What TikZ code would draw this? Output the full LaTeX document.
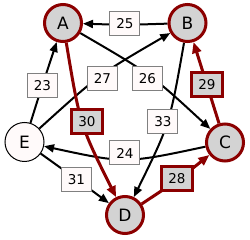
\documentclass[tikz,border=0pt]{standalone}
\usepackage{fontspec}
\setmainfont{DejaVu Sans}
\usetikzlibrary{arrows.meta,calc,backgrounds}
\definecolor{dkred}{HTML}{8B0000}
\definecolor{ltgray}{HTML}{D3D3D3}
\definecolor{snowc}{HTML}{FFFAFA}
\definecolor{lblgray}{HTML}{808080}
\tikzset{
  rednode/.style={circle, draw=dkred, line width=3pt, fill=ltgray, minimum size=37pt, inner sep=0pt, font=\fontsize{17}{20}\selectfont},
  whitenode/.style={circle, draw=black, line width=1pt, fill=snowc, minimum size=39pt, inner sep=0pt, font=\fontsize{17}{20}\selectfont},
  lblbox/.style={rectangle, draw=lblgray, line width=1pt, fill=snowc, minimum width=30pt, minimum height=24pt, inner sep=0pt, font=\fontsize{13.5}{16}\selectfont},
  redlbl/.style={rectangle, draw=dkred, line width=3pt, fill=ltgray, minimum width=31pt, minimum height=24pt, inner sep=0pt, font=\fontsize{13.5}{16}\selectfont},
  blackedge/.style={draw=black, line width=2pt, -{Triangle[length=10pt,width=8pt]}},
  redconn/.style={draw=dkred, line width=3pt, -{Triangle[length=11pt,width=9pt]}}
}
\begin{document}
\begin{tikzpicture}[x=1pt,y=-1pt]
\useasboundingbox (0,0) rectangle (250,240);
% nodes
\node[rednode] (A) at (63,23) {A};
\node[rednode] (B) at (187.5,23) {B};
\node[rednode] (C) at (225,142.5) {C};
\node[rednode] (D) at (125,215) {D};
\node[whitenode] (E) at (24.5,142) {E};
% labels
\node[lblbox] (l25) at (125,24) {25};
\node[lblbox] (l23) at (42.5,85.5) {23};
\node[lblbox] (l27) at (102.5,78.5) {27};
\node[lblbox] (l26) at (147.5,78.5) {26};
\node[redlbl] (l30) at (87,122) {30};
\node[lblbox] (l33) at (163,121.5) {33};
\node[lblbox] (l24) at (125,153) {24};
\node[lblbox] (l31) at (76.5,179.5) {31};
\node[redlbl] (l28) at (177,179) {28};
\node[redlbl] (l29) at (207,85) {29};
% control points
\coordinate (k25) at ($2*(l25)-0.5*(B)-0.5*(A)$);
\coordinate (k23) at ($2*(l23)-0.5*(E)-0.5*(A)$);
\coordinate (k27) at ($2*(l27)-0.5*(E)-0.5*(B)$);
\coordinate (k26) at ($2*(l26)-0.5*(A)-0.5*(C)$);
\coordinate (k30) at ($2*(l30)-0.5*(A)-0.5*(D)$);
\coordinate (k33) at ($2*(l33)-0.5*(B)-0.5*(D)$);
\coordinate (k24) at ($2*(l24)-0.5*(C)-0.5*(E)$);
\coordinate (k31) at ($2*(l31)-0.5*(E)-0.5*(D)$);
\coordinate (k28) at ($2*(l28)-0.5*(D)-0.5*(C)$);
\coordinate (k29) at ($2*(l29)-0.5*(C)-0.5*(B)$);
\begin{scope}[on background layer]
\draw[blackedge] (B) .. controls (k25) .. (A);
\draw[blackedge] (E) .. controls (k23) .. (A);
\draw[blackedge] (E) .. controls (k27) .. (B);
\draw[blackedge] (A) .. controls (k26) .. (C);
\draw[blackedge] (B) .. controls (k33) .. (D);
\draw[blackedge] (C) .. controls (k24) .. (E);
\draw[blackedge] (E) .. controls (k31) .. (D);
\draw[redconn] (A) .. controls (k30) .. (D);
\draw[redconn] (D) .. controls (k28) .. (C);
\draw[redconn] (C) .. controls (k29) .. (B);
\end{scope}
\end{tikzpicture}
\end{document}
